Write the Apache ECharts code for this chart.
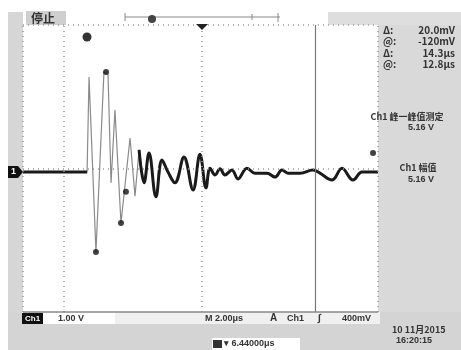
<!DOCTYPE html>
<html>
<head>
<meta charset="utf-8">
<script src="https://cdn.jsdelivr.net/npm/echarts@6/dist/echarts.min.js"></script>
<style>
  html, body { margin: 0; padding: 0; background: #fff; }
  #chart { width: 461px; height: 350px; }
</style>
</head>
<body>
<div id="chart"></div>
<script>
// 时间 (μs) 与 电压 (V)，2.00μs/格，1.00V/格
const timeUs = [0, 3.61, 3.72, 4.11, 4.56, 4.79, 4.96, 5.18, 5.52, 6.03, 6.31, 6.54, 6.82, 7.10, 7.49, 7.83,
  8.17, 8.56, 9.07, 9.58, 9.97, 10.31, 10.54, 10.82, 11.10, 11.38, 11.77, 12.11, 12.62, 13.07, 13.75,
  14.20, 14.59, 14.93, 15.61, 16.34, 16.73, 17.41, 17.97, 18.59, 19.10, 19.72, 20]
const volts = [-0.10, -0.10, 2.55, -2.33, 2.69, 2.62, -0.40, 1.63, -1.52, 0.85, -0.77, 0.52, -0.40, 0.43, -0.79, 0.24,
  -0.10, -0.40, 0.32, -0.60, 0.40, -0.54, 0.01, -0.18, -0.01, -0.18, -0.04, -0.29, 0.01, -0.13, -0.13,
  -0.24, -0.04, -0.13, -0.13, -0.04, -0.13, -0.32, 0.01, -0.32, -0.10, -0.10, -0.10]
// 波形上的亮点
const dotTime = [4.11, 4.68, 5.52, 5.80, 19.72]
const dotVolts = [-2.33, 2.69, -1.52, -0.65, 0.43]
// 刻度虚线、光标
const gridTimes = [2.31, 10.08]
const cursorTime = 16.45
const slowFrom = 6.5

const readout = [['Δ:', '20.0mV'], ['@:', '-120mV'], ['Δ:', '14.3μs'], ['@:', '12.8μs']]

const all = timeUs.map((t, i) => [t, volts[i]])
const slowHead = timeUs.map((t, i) => [t, volts[i]]).filter(p => p[0] <= 3.61)
const slowTail = timeUs.map((t, i) => [t, volts[i]]).filter(p => p[0] >= slowFrom)

const txt = (x, y, text, opt = {}) => ({
  type: 'text', x, y, z: 20,
  style: Object.assign({
    text, fill: '#333', font: 'bold 10px "Noto Sans CJK SC", sans-serif',
    textVerticalAlign: 'middle'
  }, opt)
})
const rect = (x, y, width, height, fill, z = 1) => ({type: 'rect', z, shape: {x, y, width, height}, style: {fill}})
const seg = (x1, y1, x2, y2, stroke, lineWidth = 1) => ({
  type: 'line', z: 15, shape: {x1, y1, x2, y2}, style: {stroke, lineWidth}
})

const graphic = [
  // 外框灰色区域
  rect(8, 12, 15, 300, '#d6d6d6'),
  rect(328, 12, 133, 13, '#dedede'),
  rect(378, 25, 83, 287, '#d9d9d9'),
  rect(8, 312, 453, 38, '#d4d4d4'),
  rect(22, 312, 358, 12, '#f0f0f0', 2),
  rect(26, 11, 40, 14, '#cfcfcf', 2),
  txt(31, 18, '停止', {font: 'bold 12px "Noto Sans CJK SC", sans-serif'}),
  // 顶部时基条
  seg(125, 17, 280, 17, '#888', 1),
  seg(125, 13, 125, 21, '#888'),
  seg(252, 14, 252, 20, '#888'),
  seg(278, 13, 278, 22, '#888'),
  {type: 'circle', z: 16, shape: {cx: 152, cy: 19, r: 4}, style: {fill: '#444'}},
  {type: 'polygon', z: 16, shape: {points: [[196, 24], [208, 24], [202, 30]]}, style: {fill: '#222'}},
  {type: 'circle', z: 16, shape: {cx: 87, cy: 37, r: 4.5}, style: {fill: '#333'}},
  // 通道标记
  {type: 'polygon', z: 16, shape: {points: [[8, 166], [18, 166], [23, 172], [18, 178], [8, 178]]}, style: {fill: '#111'}},
  txt(11, 172, '1', {fill: '#fff', font: 'bold 9px sans-serif'}),
  // 右侧读数
  ...readout.flatMap((r, i) => [
    txt(383, 30 + i * 11.5, r[0]),
    txt(455, 30 + i * 11.5, r[1], {textAlign: 'right'})
  ]),
  txt(407, 117, 'Ch1 峰一峰值测定', {textAlign: 'center', font: 'bold 9px "Noto Sans CJK SC", sans-serif'}),
  txt(421, 128, '5.16 V', {textAlign: 'center', font: 'bold 9px sans-serif'}),
  txt(418, 168, 'Ch1 幅值', {textAlign: 'center', font: 'bold 9px "Noto Sans CJK SC", sans-serif'}),
  txt(421, 180, '5.16 V', {textAlign: 'center', font: 'bold 9px sans-serif'}),
  // 底部状态栏
  rect(22, 313, 21, 11, '#111', 3),
  txt(25, 318.5, 'Ch1', {fill: '#fff', font: 'bold 8px sans-serif'}),
  rect(43, 312, 72, 12, '#fff', 3),
  txt(58, 318.5, '1.00 V', {font: 'bold 9px sans-serif'}),
  txt(205, 318.5, 'M 2.00μs', {font: 'bold 9px sans-serif'}),
  txt(270, 318.5, 'A', {font: 'bold 10px sans-serif'}),
  txt(287, 318.5, 'Ch1', {font: 'bold 9px sans-serif'}),
  txt(318, 318.5, '∫', {font: 'bold 10px sans-serif'}),
  txt(342, 318.5, '400mV', {font: 'bold 9px sans-serif'}),
  rect(212, 338, 88, 12, '#fff', 3),
  rect(213, 340, 9, 8, '#333', 4),
  txt(224, 344, '▾ 6.44000μs', {font: 'bold 9px sans-serif'}),
  txt(392, 330, '10 11月2015', {font: 'bold 9px "Noto Sans CJK SC", sans-serif'}),
  txt(396, 341, '16:20:15', {font: 'bold 9px sans-serif'})
]

const chart = echarts.init(document.getElementById('chart'))
chart.setOption({
  animation: false,
  backgroundColor: '#fff',
  grid: {left: 23, right: 83, top: 25, bottom: 38},
  xAxis: {type: 'value', min: 0, max: 20, show: false},
  yAxis: {type: 'value', min: -4, max: 4, show: false},
  graphic,
  series: [
    {
      type: 'line', data: all, symbol: 'none', z: 3,
      lineStyle: {color: '#8a8a8a', width: 1.2},
      markLine: {
        silent: true, symbol: 'none', label: {show: false},
        lineStyle: {color: '#999', type: [1, 4], width: 1.5},
        data: [
          ...gridTimes.map(t => ({xAxis: t})),
          {xAxis: 0}, {xAxis: 20}, {yAxis: 4}, {yAxis: 0},
          {xAxis: cursorTime, lineStyle: {type: 'solid', color: '#777', width: 1.2}},
          {yAxis: -4, lineStyle: {type: 'solid', color: '#888', width: 1.5}}
        ]
      }
    },
    {
      type: 'line', data: slowHead, symbol: 'none', z: 4,
      lineStyle: {color: '#1a1a1a', width: 3}
    },
    {
      type: 'line', data: slowTail, symbol: 'none', z: 4, smooth: 0.4,
      lineStyle: {color: '#1a1a1a', width: 3}
    },
    {
      type: 'scatter', data: dotTime.map((t, i) => [t, dotVolts[i]]), z: 5,
      symbolSize: 6, itemStyle: {color: '#111'}
    }
  ]
})
</script>
</body>
</html>
